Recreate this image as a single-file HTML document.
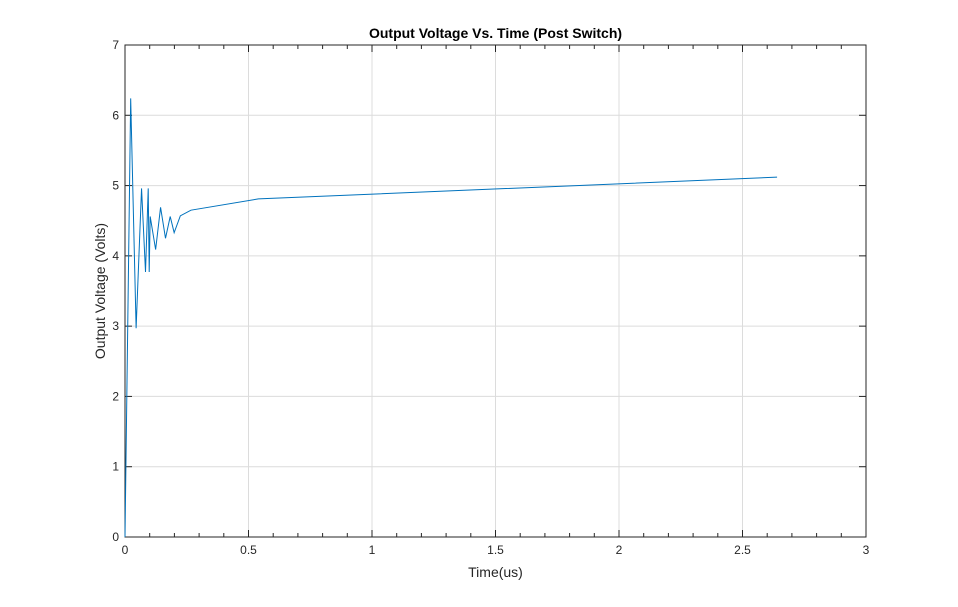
<!DOCTYPE html>
<html><head><meta charset="utf-8"><style>
body{margin:0;background:#fff;}
svg text{font-family:"Liberation Sans",Arial,sans-serif;}
</style></head><body>
<svg id="chart" width="958" height="602" xmlns="http://www.w3.org/2000/svg">
<rect width="958" height="602" fill="#fff"/>
<g id="grid"></g>
<g id="ticks"></g>
<rect x="125" y="45" width="741" height="492" fill="none" stroke="#262626" stroke-width="1"/>
<polyline id="series" fill="none" stroke="#0072BD" stroke-width="1"/>
<text x="495.5" y="38" text-anchor="middle" font-size="14" font-weight="bold" fill="#000">Output Voltage Vs. Time (Post Switch)</text>
<text x="495.5" y="577" text-anchor="middle" font-size="14" fill="#262626">Time(us)</text>
<text transform="translate(105,291) rotate(-90)" text-anchor="middle" font-size="14" fill="#262626">Output Voltage (Volts)</text>
</svg>
<script>
const timeUs = [0, 0.023, 0.045, 0.067, 0.083, 0.094, 0.098, 0.102, 0.124, 0.144, 0.164, 0.183, 0.199, 0.224, 0.267, 0.54, 2.64];
const voltage = [0, 6.24, 2.97, 4.96, 3.77, 4.96, 3.77, 4.56, 4.09, 4.69, 4.25, 4.56, 4.33, 4.57, 4.65, 4.81, 5.12];
const xTicks = [0, 0.5, 1, 1.5, 2, 2.5, 3];
const xTickLabels = ["0", "0.5", "1", "1.5", "2", "2.5", "3"];
const yTicks = [0, 1, 2, 3, 4, 5, 6, 7];
const yTickLabels = ["0", "1", "2", "3", "4", "5", "6", "7"];

const X0=125,X1=866,Y0=537,Y1=45,XMAX=3,YMAX=7;
const xs=v=>X0+(X1-X0)*v/XMAX;
const ys=v=>Y0-(Y0-Y1)*v/YMAX;
const NS="http://www.w3.org/2000/svg";
const grid=document.getElementById('grid'), ticks=document.getElementById('ticks');
function ln(p,x1,y1,x2,y2,c){const l=document.createElementNS(NS,'line');l.setAttribute('x1',x1);l.setAttribute('y1',y1);l.setAttribute('x2',x2);l.setAttribute('y2',y2);l.setAttribute('stroke',c);p.appendChild(l);return l;}
xTicks.forEach((t,i)=>{
  const x=xs(t);
  const g=ln(grid,x,Y0,x,Y1,'#dcdcdc');
  
  
  ln(ticks,x,Y0,x,Y0-7,'#262626');ln(ticks,x,Y1,x,Y1+7,'#262626');
  const tx=document.createElementNS(NS,'text');
  
  
  tx.setAttribute('x',x);tx.setAttribute('y',Y0+17);tx.setAttribute('text-anchor','middle');tx.setAttribute('font-size','12');tx.setAttribute('fill','#262626');
  tx.textContent=xTickLabels[i];ticks.appendChild(tx);
});
for(let k=1;k<30;k++){ if(k%5===0)continue; const x=xs(k/10); ln(ticks,x,Y0,x,Y0-4,'#262626');ln(ticks,x,Y1,x,Y1+4,'#262626');}
yTicks.forEach((t,i)=>{
  const y=ys(t);
  const g=ln(grid,X0,y,X1,y,'#dcdcdc');
  
  
  ln(ticks,X0,y,X0+7,y,'#262626');ln(ticks,X1,y,X1-7,y,'#262626');
  const tx=document.createElementNS(NS,'text');
  
  
  tx.setAttribute('x',X0-6);tx.setAttribute('y',y+4);tx.setAttribute('text-anchor','end');tx.setAttribute('font-size','12');tx.setAttribute('fill','#262626');
  tx.textContent=yTickLabels[i];ticks.appendChild(tx);
});
document.getElementById('series').setAttribute('points',timeUs.map((t,i)=>xs(t)+','+ys(voltage[i])).join(' '));
</script>
</body></html>
